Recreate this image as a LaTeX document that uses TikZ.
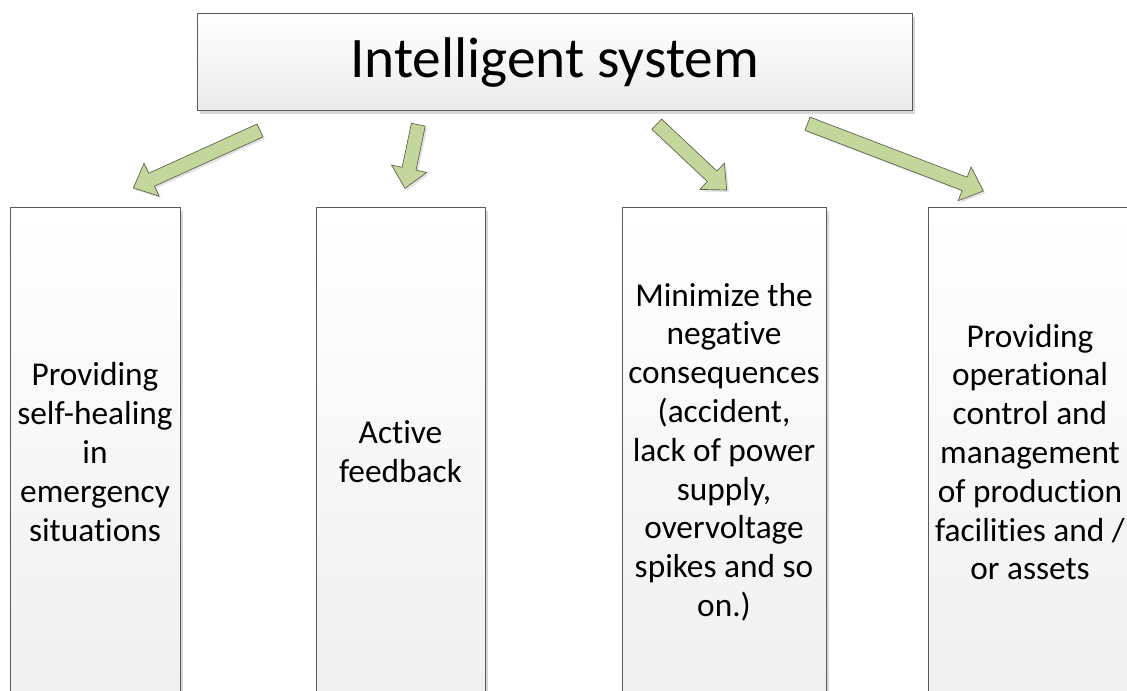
\documentclass[tikz,border=0pt]{standalone}
\usepackage{fontspec}
\setmainfont[Ligatures={NoCommon}]{Carlito}
\usetikzlibrary{calc,shadows}

\definecolor{arrowgreen}{HTML}{C3D69B}
\definecolor{arrowline}{HTML}{5B6248}
\definecolor{boxline}{HTML}{5A5A5A}

\tikzset{
  boxshadow/.style={drop shadow={shadow xshift=2pt, shadow yshift=-2pt, fill=black!35, opacity=0.45}},
  topbox/.style={draw=boxline, line width=0.75pt, top color=white, bottom color=black!8,
    boxshadow, minimum width=536.25pt, minimum height=72.75pt, inner sep=0pt,
    font=\fontsize{43}{50}\selectfont},
  itembox/.style={draw=boxline, line width=0.75pt, top color=white, bottom color=black!6,
    boxshadow, minimum height=366pt, inner sep=0pt, align=center,
    font=\fontsize{25}{29.1}\selectfont},
  greenarrow/.style={draw=arrowline, line width=0.5pt, fill=arrowgreen, line join=miter,
    drop shadow={shadow xshift=1.5pt, shadow yshift=-1.5pt, fill=black!30, opacity=0.4}}
}

% block arrow from tail coordinate #1 to tip coordinate #2
\newcommand{\blockarrow}[2]{%
  \draw[greenarrow] let \p1=(#1), \p2=(#2),
    \n1={atan2(\y2-\y1,\x2-\x1)}, \n2={veclen(\x2-\x1,\y2-\y1)} in
    (#1) ++(\n1+90:5.3pt) -- ++(\n1:\n2-15pt) -- ++(\n1+90:8.2pt) -- (#2)
    -- ($(#2)+(\n1+180:15pt)+(\n1-90:13.5pt)$) -- ++(\n1+90:8.2pt)
    -- ($(#1)+(\n1-90:5.3pt)$) -- cycle;%
}

\begin{document}
\begin{tikzpicture}[x=0.75pt, y=0.75pt]
  \useasboundingbox (0,0) rectangle (1127,691);
  \clip (0,0) rectangle (1127,691);

  % Top box
  \node[topbox] (sys) at (554.5,628.5) {Intelligent system};

  % Function boxes (run past the lower edge)
  \node[itembox, minimum width=127.5pt] (heal) at (95,239)
    {Providing\\self-healing\\in\\emergency\\situations};
  \node[itembox, minimum width=126.75pt] (feed) at (400.5,239)
    {Active\\feedback};
  \node[itembox, minimum width=153pt] (minim) at (724,239)
    {Minimize the\\negative\\consequences\\(accident,\\lack of power\\supply,\\overvoltage\\spikes and so\\on.)};
  \node[itembox, minimum width=153pt] (oper) at (1030,239)
    {Providing\\operational\\control and\\management\\of production\\facilities and /\\or assets};

  % Arrow tails and tips
  \coordinate (t1) at (260,560.5);   \coordinate (h1) at (133.3,503);
  \coordinate (t2) at (418.3,566.3); \coordinate (h2) at (405,502.7);
  \coordinate (t3) at (656.7,566.8); \coordinate (h3) at (726.7,501);
  \coordinate (t4) at (807.5,567.3); \coordinate (h4) at (983.3,500);

  % Arrows
  \blockarrow{t1}{h1}
  \blockarrow{t2}{h2}
  \blockarrow{t3}{h3}
  \blockarrow{t4}{h4}
\end{tikzpicture}
\end{document}
